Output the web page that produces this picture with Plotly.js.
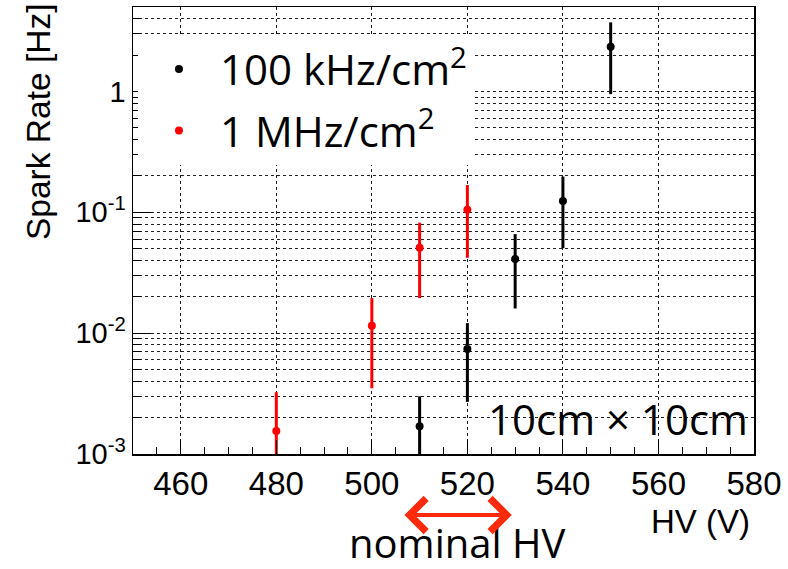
<!DOCTYPE html>
<html><head><meta charset="utf-8">
<script src="https://cdn.plot.ly/plotly-3.0.1.min.js"></script>
<style>html,body{margin:0;padding:0;background:#fff;} #chart{width:788px;height:569px;}</style>
</head><body><div id="chart"></div>
<script>
// ---- data ----
const hv100k = [510, 520, 530, 540, 550];
const rate100k = [0.0017, 0.0074, 0.041, 0.124, 2.34];
const err100k = [0.0013, 0.0047, 0.025, 0.0735, 1.39];

const hv1M = [480, 500, 510, 520];
const rate1M = [0.00155, 0.0115, 0.0508, 0.105];
const err1M = [0.0017, 0.0080, 0.0313, 0.063];

const seriesNames = ['100 kHz/cm<sup>2</sup>', '1 MHz/cm<sup>2</sup>'];
const xTickVals = [460, 480, 500, 520, 540, 560, 580];
const yTickVals = [0.001, 0.01, 0.1, 1];
const yTickText = ['10<sup>-3</sup>', '10<sup>-2</sup>', '10<sup>-1</sup>', '1'];
const yMinorMult = [2, 3, 4, 5, 6, 7, 8, 9];
const yDecades = [0.001, 0.01, 0.1, 1];

const yMax = 5;
const yMinorVals = [];
yDecades.forEach(d => yMinorMult.forEach(m => { if (d * m <= yMax) yMinorVals.push(d * m); }));

const rootFont = '"Liberation Sans", Arial, sans-serif';
const pptFont = '"Open Sans", sans-serif';

const traces = [
  {
    x: hv100k, y: rate100k, name: seriesNames[0], legendgroup: 'g1', type: 'scatter', mode: 'markers',
    marker: {color: '#000000', size: 8},
    error_y: {type: 'data', array: err100k, visible: true, color: '#000000', thickness: 3, width: 0}
  },
  {
    x: hv1M, y: rate1M, name: seriesNames[1], legendgroup: 'g2', type: 'scatter', mode: 'markers',
    marker: {color: '#ff0000', size: 8},
    error_y: {type: 'data', array: err1M, visible: true, color: '#ff0000', thickness: 3, width: 0}
  }
];

const layout = {
  width: 788, height: 569,
  margin: {l: 133, r: 34, t: 7, b: 115},
  paper_bgcolor: '#ffffff', plot_bgcolor: '#ffffff',
  showlegend: true,
  legend: {
    x: 0.008, y: 0.937, xanchor: 'left', yanchor: 'top',
    bgcolor: '#ffffff', borderwidth: 0,
    traceorder: 'grouped', tracegroupgap: 4,
    font: {family: pptFont, size: 42, color: '#000000'},
    itemwidth: 72, itemsizing: 'trace'
  },
  xaxis: {
    range: [450, 580],
    tickmode: 'array', tickvals: xTickVals,
    ticks: 'inside', ticklen: 14, tickcolor: '#000', tickwidth: 1,
    showline: true, linecolor: '#000', linewidth: 1.5, mirror: true,
    showgrid: true, gridcolor: '#222', griddash: 'dot', gridwidth: 1,
    zeroline: false,
    tickfont: {family: rootFont, size: 33, color: '#000'},
    minor: {dtick: 5, tick0: 450, ticks: 'inside', ticklen: 7, tickcolor: '#000', showgrid: false}
  },
  yaxis: {
    type: 'log', range: [-3, Math.log10(yMax)],
    tickmode: 'array', tickvals: yTickVals, ticktext: yTickText,
    ticks: 'inside', ticklen: 18, tickcolor: '#000', tickwidth: 1,
    showline: true, linecolor: '#000', linewidth: 1.5, mirror: true,
    showgrid: true, gridcolor: '#222', griddash: 'dot', gridwidth: 1,
    zeroline: false,
    tickfont: {family: rootFont, size: 29, color: '#000'},
    minor: {tickmode: 'array', tickvals: yMinorVals, ticks: 'inside', ticklen: 8, tickcolor: '#000',
            showgrid: true, gridcolor: '#222', griddash: 'dot', gridwidth: 1}
  },
  shapes: [
    {type: 'rect', xref: 'paper', yref: 'paper', x0: 0.570, x1: 0.995, y0: 0.03, y1: 0.11,
     fillcolor: '#ffffff', line: {width: 0}, layer: 'between'}
  ],
  annotations: [
    {text: '10cm × 10cm', xref: 'paper', yref: 'paper', x: 0.9935, y: 0.079,
     xanchor: 'right', yanchor: 'middle', showarrow: false,
     font: {family: pptFont, size: 42, color: '#000'}},
    {text: 'HV (V)', xref: 'paper', yref: 'paper', x: 0.9968, y: -0.152,
     xanchor: 'right', yanchor: 'middle', showarrow: false,
     font: {family: rootFont, size: 33, color: '#000'}},
    {text: 'Spark Rate [Hz]', xref: 'paper', yref: 'paper', x: 0, y: 0.7427, xshift: -95,
     xanchor: 'center', yanchor: 'middle', textangle: -90, showarrow: false,
     font: {family: rootFont, size: 33.5, color: '#000'}},
    {text: 'nominal HV', xref: 'paper', yref: 'paper', x: 0.5217, y: -0.197,
     xanchor: 'center', yanchor: 'middle', showarrow: false,
     font: {family: pptFont, size: 40, color: '#000'}},
    {text: '', xref: 'x', yref: 'paper', x: 529.3, y: -0.1365,
     axref: 'x', ayref: 'paper', ax: 506.5, ay: -0.1365,
     showarrow: true, arrowside: 'end+start', arrowhead: 4, startarrowhead: 4,
     arrowwidth: 4, arrowsize: 1.6, startarrowsize: 1.6, arrowcolor: '#ff2a0c'}
  ]
};

Plotly.newPlot('chart', traces, layout, {displayModeBar: false, staticPlot: true});
</script>
</body></html>
